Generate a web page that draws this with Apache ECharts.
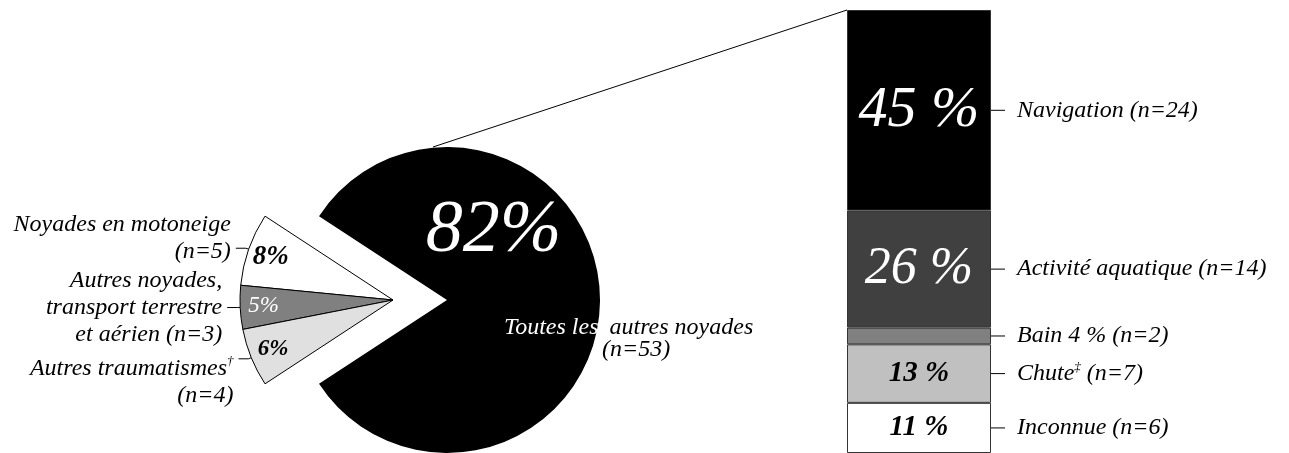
<!DOCTYPE html>
<html>
<head>
<meta charset="utf-8">
<script src="https://cdn.jsdelivr.net/npm/echarts@6/dist/echarts.min.js"></script>
<style>
  html, body { margin: 0; padding: 0; background: #fff; }
  #chart { width: 1289px; height: 453px; }
</style>
</head>
<body>
<div id="chart"></div>
<script>
// secteurs : tous les décès
const pieNames = ['Toutes les autres noyades', 'Noyades en motoneige', 'Autres noyades,\ntransport terrestre\net aérien', 'Autres traumatismes'];
const pieMarks = ['', '', '', '†'];
const pieCounts = [53, 5, 3, 4];
const pieColors = ['#000000', '#ffffff', '#808080', '#e0e0e0'];

// barre : détail des autres noyades (du bas vers le haut)
const barNames = ['Inconnue', 'Chute', 'Bain', 'Activité aquatique', 'Navigation'];
const barMarks = ['', '‡', '', '', ''];
const barCounts = [6, 7, 2, 14, 24];
const barColors = ['#ffffff', '#c0c0c0', '#808080', '#404040', '#000000'];

const FONT = 'Liberation Serif';
const CY = 300, R = 153;
const CX_BIG = 447, CX_SMALL = 393;
const GRID_LEFT = 847, GRID_TOP = 10, GRID_W = 144, GRID_H = 445;

const pieTotal = pieCounts.reduce((a, b) => a + b, 0);
const barTotal = barCounts.reduce((a, b) => a + b, 0);
const startAngle = -pieCounts[0] / pieTotal * 180;
const pct = (v, t) => Math.round(v / t * 100);

const txt = { fontFamily: FONT, fontStyle: 'italic', color: '#000' };

const pieBase = {
  type: 'pie',
  startAngle: startAngle,
  clockwise: false,
  silent: true,
  avoidLabelOverlap: false
};

const series = [];

// grand secteur noir (décalé à droite)
series.push(Object.assign({}, pieBase, {
  center: [CX_BIG, CY],
  radius: R,
  data: pieCounts.map((v, i) => ({
    value: v, name: pieNames[i],
    itemStyle: { color: i === 0 ? pieColors[0] : 'transparent' },
    label: { show: i === 0 }
  })),
  label: {
    position: 'inside',
    formatter: (p) => pct(p.value, pieTotal) + '%',
    fontFamily: FONT, fontStyle: 'italic', fontSize: 74, color: '#fff'
  },
  labelLine: { show: false },
  labelLayout: { dx: -33, dy: -68 }
}));

// libellé du grand secteur
series.push(Object.assign({}, pieBase, {
  center: [CX_BIG, CY],
  radius: R,
  itemStyle: { color: 'transparent' },
  data: pieCounts.map((v, i) => ({ value: v, name: pieNames[i], label: { show: i === 0 } })),
  label: {
    position: 'inside',
    formatter: (p) => {
      const w = p.name.split(' ');
      return '{w|' + w.slice(0, 2).join(' ') + '}{sp|}{b|' + w.slice(2).join(' ') + '}\n{ind|}{b|(n=' + p.value + ')}';
    },
    rich: {
      w: Object.assign({}, txt, { fontSize: 24, color: '#fff', lineHeight: 22 }),
      b: Object.assign({}, txt, { fontSize: 24, lineHeight: 22 }),
      sp: { width: 11 },
      ind: { width: 98 }
    }
  },
  labelLine: { show: false },
  labelLayout: () => ({ x: CX_BIG + 57, y: CY + 39, align: 'left', verticalAlign: 'middle' })
}));

// petits secteurs (décalés à gauche)
series.push(Object.assign({}, pieBase, {
  center: [CX_SMALL, CY],
  radius: R,
  data: pieCounts.map((v, i) => ({
    value: v, name: pieNames[i],
    itemStyle: i === 0 ? { color: 'transparent', borderWidth: 0 } : { color: pieColors[i], borderColor: '#000', borderWidth: 1 },
    label: { show: i !== 0 },
    labelLine: { show: i !== 0 }
  })),
  label: {
    position: 'outside',
    alignTo: 'none',
    formatter: (p) => {
      const i = p.dataIndex;
      const mark = pieMarks[i] ? '{sup|' + pieMarks[i] + '}' : '';
      const sep = p.name.indexOf('\n') >= 0 ? ' ' : '\n';
      return p.name + mark + sep + '(n=' + p.value + ')';
    },
    fontFamily: FONT, fontStyle: 'italic', fontSize: 24, lineHeight: 27, color: '#000',
    rich: { sup: { fontFamily: FONT, fontStyle: 'italic', fontSize: 13, verticalAlign: 'top', lineHeight: 27 } }
  },
  labelLine: { length: 3, length2: 10, lineStyle: { color: '#000', width: 1 } },
  labelLayout: (p) => ({ dy: [0, -10, 0, 23][p.dataIndex] })
}));

// pourcentages des petits secteurs
series.push(Object.assign({}, pieBase, {
  center: [CX_SMALL, CY],
  radius: [100, R],
  itemStyle: { color: 'transparent' },
  data: pieCounts.map((v, i) => ({
    value: v, name: pieNames[i],
    label: i === 0 ? { show: false } : {
      show: true,
      color: pieColors[i] === '#808080' ? '#fff' : '#000',
      fontWeight: pieColors[i] === '#808080' ? 'normal' : 'bold',
      fontSize: i === 1 ? 27 : 23
    }
  })),
  label: {
    position: 'inside',
    formatter: (p) => pct(p.value, pieTotal) + '%',
    fontFamily: FONT, fontStyle: 'italic'
  },
  labelLine: { show: false }
}));

// barre empilée
const inSize = [29, 29, 24, 52, 58];
barCounts.forEach((v, i) => {
  const p = pct(v, barTotal);
  const dark = barColors[i] === '#000000' || barColors[i] === '#404040';
  series.push({
    type: 'bar',
    stack: 'seg',
    name: barNames[i],
    silent: true,
    barWidth: '100%',
    barGap: '-100%',
    itemStyle: { color: barColors[i], borderColor: '#333', borderWidth: 1 },
    label: {
      show: p >= 10,
      position: 'inside',
      formatter: p + ' %',
      fontFamily: FONT, fontStyle: 'italic',
      fontWeight: dark ? 'normal' : 'bold',
      fontSize: inSize[i],
      color: dark ? '#fff' : '#000'
    },
    data: [v]
  });
});

// libellés à droite de la barre
barCounts.forEach((v, i) => {
  const p = pct(v, barTotal);
  const mark = barMarks[i] ? '{sup|' + barMarks[i] + '}' : '';
  const extra = p >= 10 ? '' : ' ' + p + ' %';
  series.push({
    type: 'bar',
    stack: 'lab',
    silent: true,
    barWidth: '100%',
    barGap: '-100%',
    itemStyle: { color: 'transparent' },
    label: {
      show: true,
      position: 'right',
      distance: 0,
      formatter: '{l| }{g| }{t|' + barNames[i] + extra + '}' + mark + '{t| (n=' + v + ')}',
      rich: {
        l: { width: 14, height: 1, backgroundColor: '#000' },
        g: { width: 12 },
        t: Object.assign({}, txt, { fontSize: 24, lineHeight: 26 }),
        sup: Object.assign({}, txt, { fontSize: 13, verticalAlign: 'top', lineHeight: 26 })
      }
    },
    data: [v]
  });
});

const chart = echarts.init(document.getElementById('chart'), null, { renderer: 'canvas' });
chart.setOption({
  animation: false,
  backgroundColor: '#fff',
  grid: { left: GRID_LEFT, top: GRID_TOP, width: GRID_W, height: GRID_H },
  xAxis: { type: 'category', data: ['autres noyades'], show: false },
  yAxis: { type: 'value', min: 0, max: barTotal, show: false },
  graphic: [{
    type: 'line',
    silent: true,
    z: 10,
    shape: { x1: CX_BIG - 14, y1: CY - R, x2: GRID_LEFT, y2: GRID_TOP },
    style: { stroke: '#000', lineWidth: 1 }
  }],
  series: series
});

window.addEventListener('resize', () => chart.resize());
</script>
</body>
</html>
